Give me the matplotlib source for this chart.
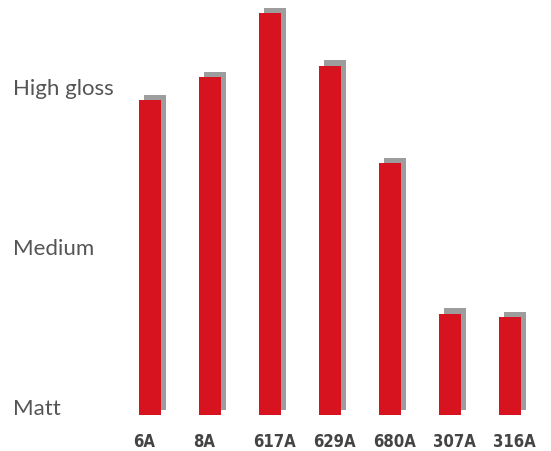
import matplotlib
matplotlib.use("Agg")
import matplotlib.pyplot as plt
import numpy as np

categories = ["6A", "8A", "617A", "629A", "680A", "307A", "316A"]
gloss = [98.4, 105.6, 125.6, 109.1, 78.75, 31.6, 30.6]
level_values = [0, 50, 100]
level_labels = ["Matt", "Medium", "High gloss"]

W, H = 551, 451
fig = plt.figure(figsize=(W / 100, H / 100), dpi=100)
ax = fig.add_axes([120 / W, 36 / H, 420 / W, 415 / H])

x = np.arange(len(categories))
bw = 22 / 60
dx = 5 / 60
dy = 5.5 / 3.2

ax.bar(x + dx, gloss, width=bw, bottom=dy, color="#9d9d9d", zorder=1, linewidth=0)
ax.bar(x, gloss, width=bw, color="#d7131f", zorder=2, linewidth=0)

ax.set_xlim(-0.5, len(categories) - 0.5)
ax.set_ylim(0, 415 / 3.2)

for s in ax.spines.values():
    s.set_visible(False)
ax.set_yticks([])
ax.set_xticks(x - 0.28)
ax.set_xticklabels(categories, ha="left", fontsize=12, fontweight="bold",
                   fontstretch="condensed", family="DejaVu Sans", color="#444444")
ax.tick_params(axis="x", length=0, pad=13)

for v, lab in zip(level_values, level_labels):
    ax.text(-107 / 420, v, lab, transform=ax.get_yaxis_transform(), ha="left",
            va="baseline", fontsize=16, family="Lato", fontweight="normal",
            color="#555555")

fig.savefig("out.png", dpi=100)
